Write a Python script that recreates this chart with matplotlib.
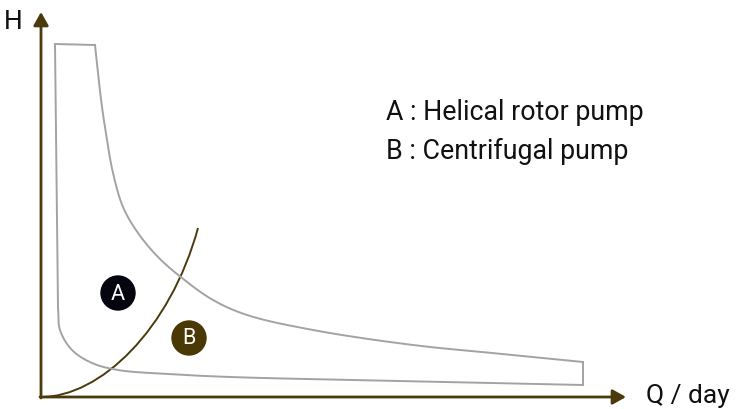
import numpy as np
import matplotlib
matplotlib.use("Agg")
import matplotlib.pyplot as plt
import matplotlib.patches as mpatches
from matplotlib.path import Path

plt.rcParams["font.family"] = ["Roboto", "DejaVu Sans"]

# points (pixel coordinates, y down)
origin = (41, 397)
y_top = 12
x_right = 626

env_left_x = [95, 55, 58]
env_left_y = [45, 44, 307]

env_low_x = [58, 60, 72, 92, 118, 168, 230, 400, 583]
env_low_y = [307, 330, 350, 363, 370, 374, 377, 381, 385]

env_right_x = [583, 583]
env_right_y = [385, 362]

env_up_x = [583, 513, 413, 313, 247, 213, 182, 158, 138, 123, 113, 107, 102, 98, 95]
env_up_y = [362, 355, 345, 330, 315, 300, 278, 257, 233, 207, 173, 140, 107, 73, 45]

# centrifugal curve: start, two control points, end
cent_x = [41, 100, 170, 198]
cent_y = [397, 397, 330, 228]

labels = ["A", "B"]
label_x = [118, 189]
label_y = [293, 338]
label_col = ["#05050f", "#4a3904"]

legend_lines = ["A : Helical rotor pump", "B : Centrifugal pump"]

axis_col = "#4a3a0c"
gray = "#a3a3a3"


def smooth(xs, ys, n=30):
    # centripetal Catmull-Rom through the read points
    p = np.column_stack([xs, ys]).astype(float)
    p = np.vstack([2 * p[0] - p[1], p, 2 * p[-1] - p[-2]])
    out = []
    for i in range(len(p) - 3):
        p0, p1, p2, p3 = p[i:i + 4]
        t0 = 0
        t1 = t0 + np.linalg.norm(p1 - p0) ** 0.5
        t2 = t1 + np.linalg.norm(p2 - p1) ** 0.5
        t3 = t2 + np.linalg.norm(p3 - p2) ** 0.5
        t = np.linspace(t1, t2, n)[:, None]
        a1 = (t1 - t) / (t1 - t0) * p0 + (t - t0) / (t1 - t0) * p1
        a2 = (t2 - t) / (t2 - t1) * p1 + (t - t1) / (t2 - t1) * p2
        a3 = (t3 - t) / (t3 - t2) * p2 + (t - t2) / (t3 - t2) * p3
        b1 = (t2 - t) / (t2 - t0) * a1 + (t - t0) / (t2 - t0) * a2
        b2 = (t3 - t) / (t3 - t1) * a2 + (t - t1) / (t3 - t1) * a3
        c = (t2 - t) / (t2 - t1) * b1 + (t - t1) / (t2 - t1) * b2
        out.append(c)
    out = np.vstack(out)
    return out[:, 0], out[:, 1]


fig = plt.figure(figsize=(7.36, 4.09), dpi=100)
ax = fig.add_axes([0, 0, 1, 1])
ax.set_xlim(0, 736)
ax.set_ylim(409, 0)
ax.axis("off")

# envelope
ax.plot(env_left_x, env_left_y, color=gray, lw=1.4, solid_joinstyle="miter")
ax.plot(env_right_x, env_right_y, color=gray, lw=1.4)
for xs, ys in [(env_low_x, env_low_y), (env_up_x, env_up_y)]:
    sx, sy = smooth(xs, ys)
    ax.plot(sx, sy, color=gray, lw=1.4)

# centrifugal curve
cent_path = Path(list(zip(cent_x, cent_y)),
                 [Path.MOVETO, Path.CURVE4, Path.CURVE4, Path.CURVE4])
ax.add_patch(mpatches.PathPatch(cent_path, fc="none", ec=axis_col, lw=1.4))

# axes arrows
arrow = dict(arrowstyle="-|>,head_length=0.8,head_width=0.45", color=axis_col, lw=2,
             shrinkA=0, shrinkB=0)
ax.annotate("", xy=(origin[0], y_top), xytext=(origin[0], origin[1] + 1), arrowprops=arrow)
ax.annotate("", xy=(x_right, origin[1]), xytext=(origin[0] - 1, origin[1]), arrowprops=arrow)

ax.text(4, 22, "H", fontsize=19, ha="left", va="center", color="#111111")
ax.text(646, 396, "Q / day", fontsize=19, ha="left", va="center", color="#111111")

for t, x, y, c in zip(labels, label_x, label_y, label_col):
    ax.add_patch(mpatches.Circle((x, y), 17, color=c))
    ax.text(x, y + 1, t, fontsize=15.5, ha="center", va="center", color="white")

for i, line in enumerate(legend_lines):
    ax.text(386, 113 + i * 38, line, fontsize=19.3, ha="left", va="center", color="#111111")

fig.savefig("out.png", dpi=100, facecolor="white")
